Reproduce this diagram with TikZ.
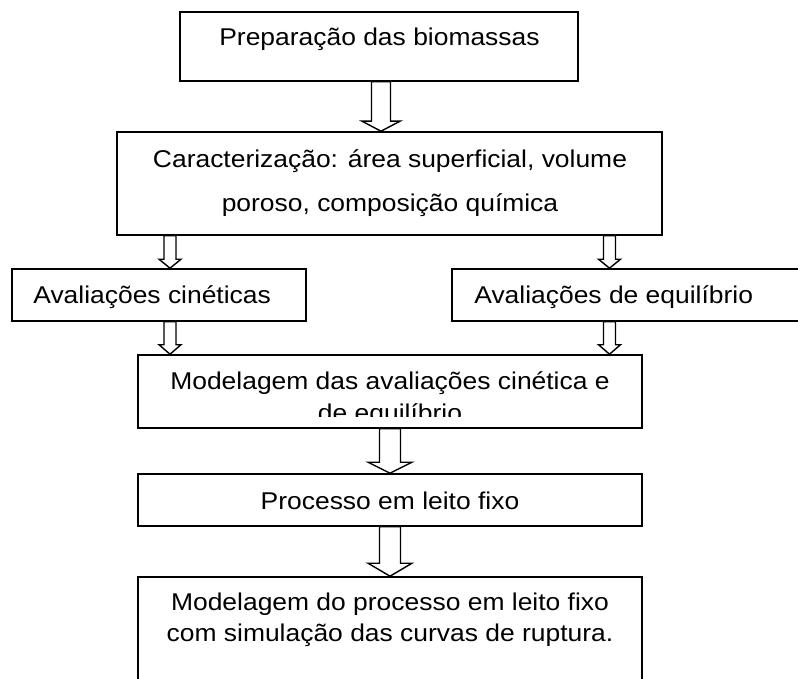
\documentclass[tikz,border=0pt]{standalone}
\usepackage{fontspec}
\setmainfont[FakeStretch=1.09]{Liberation Sans}
\usetikzlibrary{calc}

\tikzset{
  caixa/.style={draw, line width=0.9pt, inner sep=0pt},
  linha/.style={anchor=base, inner sep=0pt, font=\fontsize{13.8}{16}\selectfont},
  seta/.style={draw, line width=0.8pt, fill=white, line join=miter}
}

% seta vazada: #1 origem, #2 destino, #3 coluna, #4 meia largura do corpo,
% #5 meia largura da ponta, #6 comprimento da ponta
\newcommand{\setavazada}[6]{%
  \draw[seta] ($(#1.south -| #3)+(-#4,0)$) -- ($(#2.north -| #3)+(-#4,#6)$)
    -- ($(#2.north -| #3)+(-#5,#6)$) -- (#2.north -| #3)
    -- ($(#2.north -| #3)+(#5,#6)$) -- ($(#2.north -| #3)+(#4,#6)$)
    -- ($(#1.south -| #3)+(#4,0)$) -- cycle;
}

\begin{document}
\begin{tikzpicture}
\useasboundingbox (0,0) rectangle (15.96,-13.58);
\clip (0,0) rectangle (15.96,-13.58);

% caixas
\node[caixa, minimum width=7.96cm, minimum height=1.38cm] (prep) at (7.58,-0.93) {};
\node[caixa, minimum width=10.90cm, minimum height=2.06cm] (carac) at (7.79,-3.67) {};
\node[caixa, minimum width=5.88cm, minimum height=1.04cm] (cinet) at (3.18,-5.90) {};
\node[caixa, minimum width=7.56cm, minimum height=1.04cm] (equil) at (12.82,-5.90) {};
\node[caixa, minimum width=10.08cm, minimum height=1.46cm] (model) at (7.80,-7.83) {};
\node[caixa, minimum width=10.08cm, minimum height=1.04cm] (leito) at (7.80,-10.00) {};
\node[caixa, minimum width=10.08cm, minimum height=2.86cm] (simul) at (7.80,-12.97) {};

% textos
\node[linha] (tprep) at (7.59,-0.914) {Preparação das biomassas};
\node[linha] (tcarac1) at (7.80,-3.346) {Caracterização: área superficial, volume};
\node[linha] (tcarac2) at (7.80,-4.23) {poroso, composição química};
\node[linha, anchor=base west] (tcinet) at (0.66,-6.08) {Avaliações cinéticas};
\node[linha, anchor=base west] (tequil) at (9.48,-6.08) {Avaliações de equilíbrio};
\node[linha] (tmodel1) at (7.80,-7.80) {Modelagem das avaliações cinética e};
\begin{scope}
\clip (2.76,-7.10) rectangle (12.84,-8.34);
\node[linha] (tmodel2) at (7.80,-8.44) {de equilíbrio};
\end{scope}
\node[linha] (tleito) at (7.80,-10.19) {Processo em leito fixo};
\node[linha] (tsimul1) at (7.80,-12.22) {Modelagem do processo em leito fixo};
\node[linha] (tsimul2) at (7.80,-12.83) {com simulação das curvas de ruptura.};

% colunas das setas
\coordinate (k1) at (7.62,0);
\coordinate (k2) at (3.40,0);
\coordinate (k3) at (12.19,0);
\coordinate (k4) at (7.80,0);

% setas
\setavazada{prep}{carac}{k1}{0.19}{0.38}{0.20}
\setavazada{carac}{cinet}{k2}{0.12}{0.22}{0.18}
\setavazada{carac}{equil}{k3}{0.12}{0.22}{0.18}
\setavazada{cinet}{model}{k2}{0.12}{0.22}{0.19}
\setavazada{equil}{model}{k3}{0.12}{0.22}{0.19}
\setavazada{model}{leito}{k4}{0.21}{0.44}{0.22}
\setavazada{leito}{simul}{k4}{0.21}{0.44}{0.26}
\end{tikzpicture}
\end{document}
